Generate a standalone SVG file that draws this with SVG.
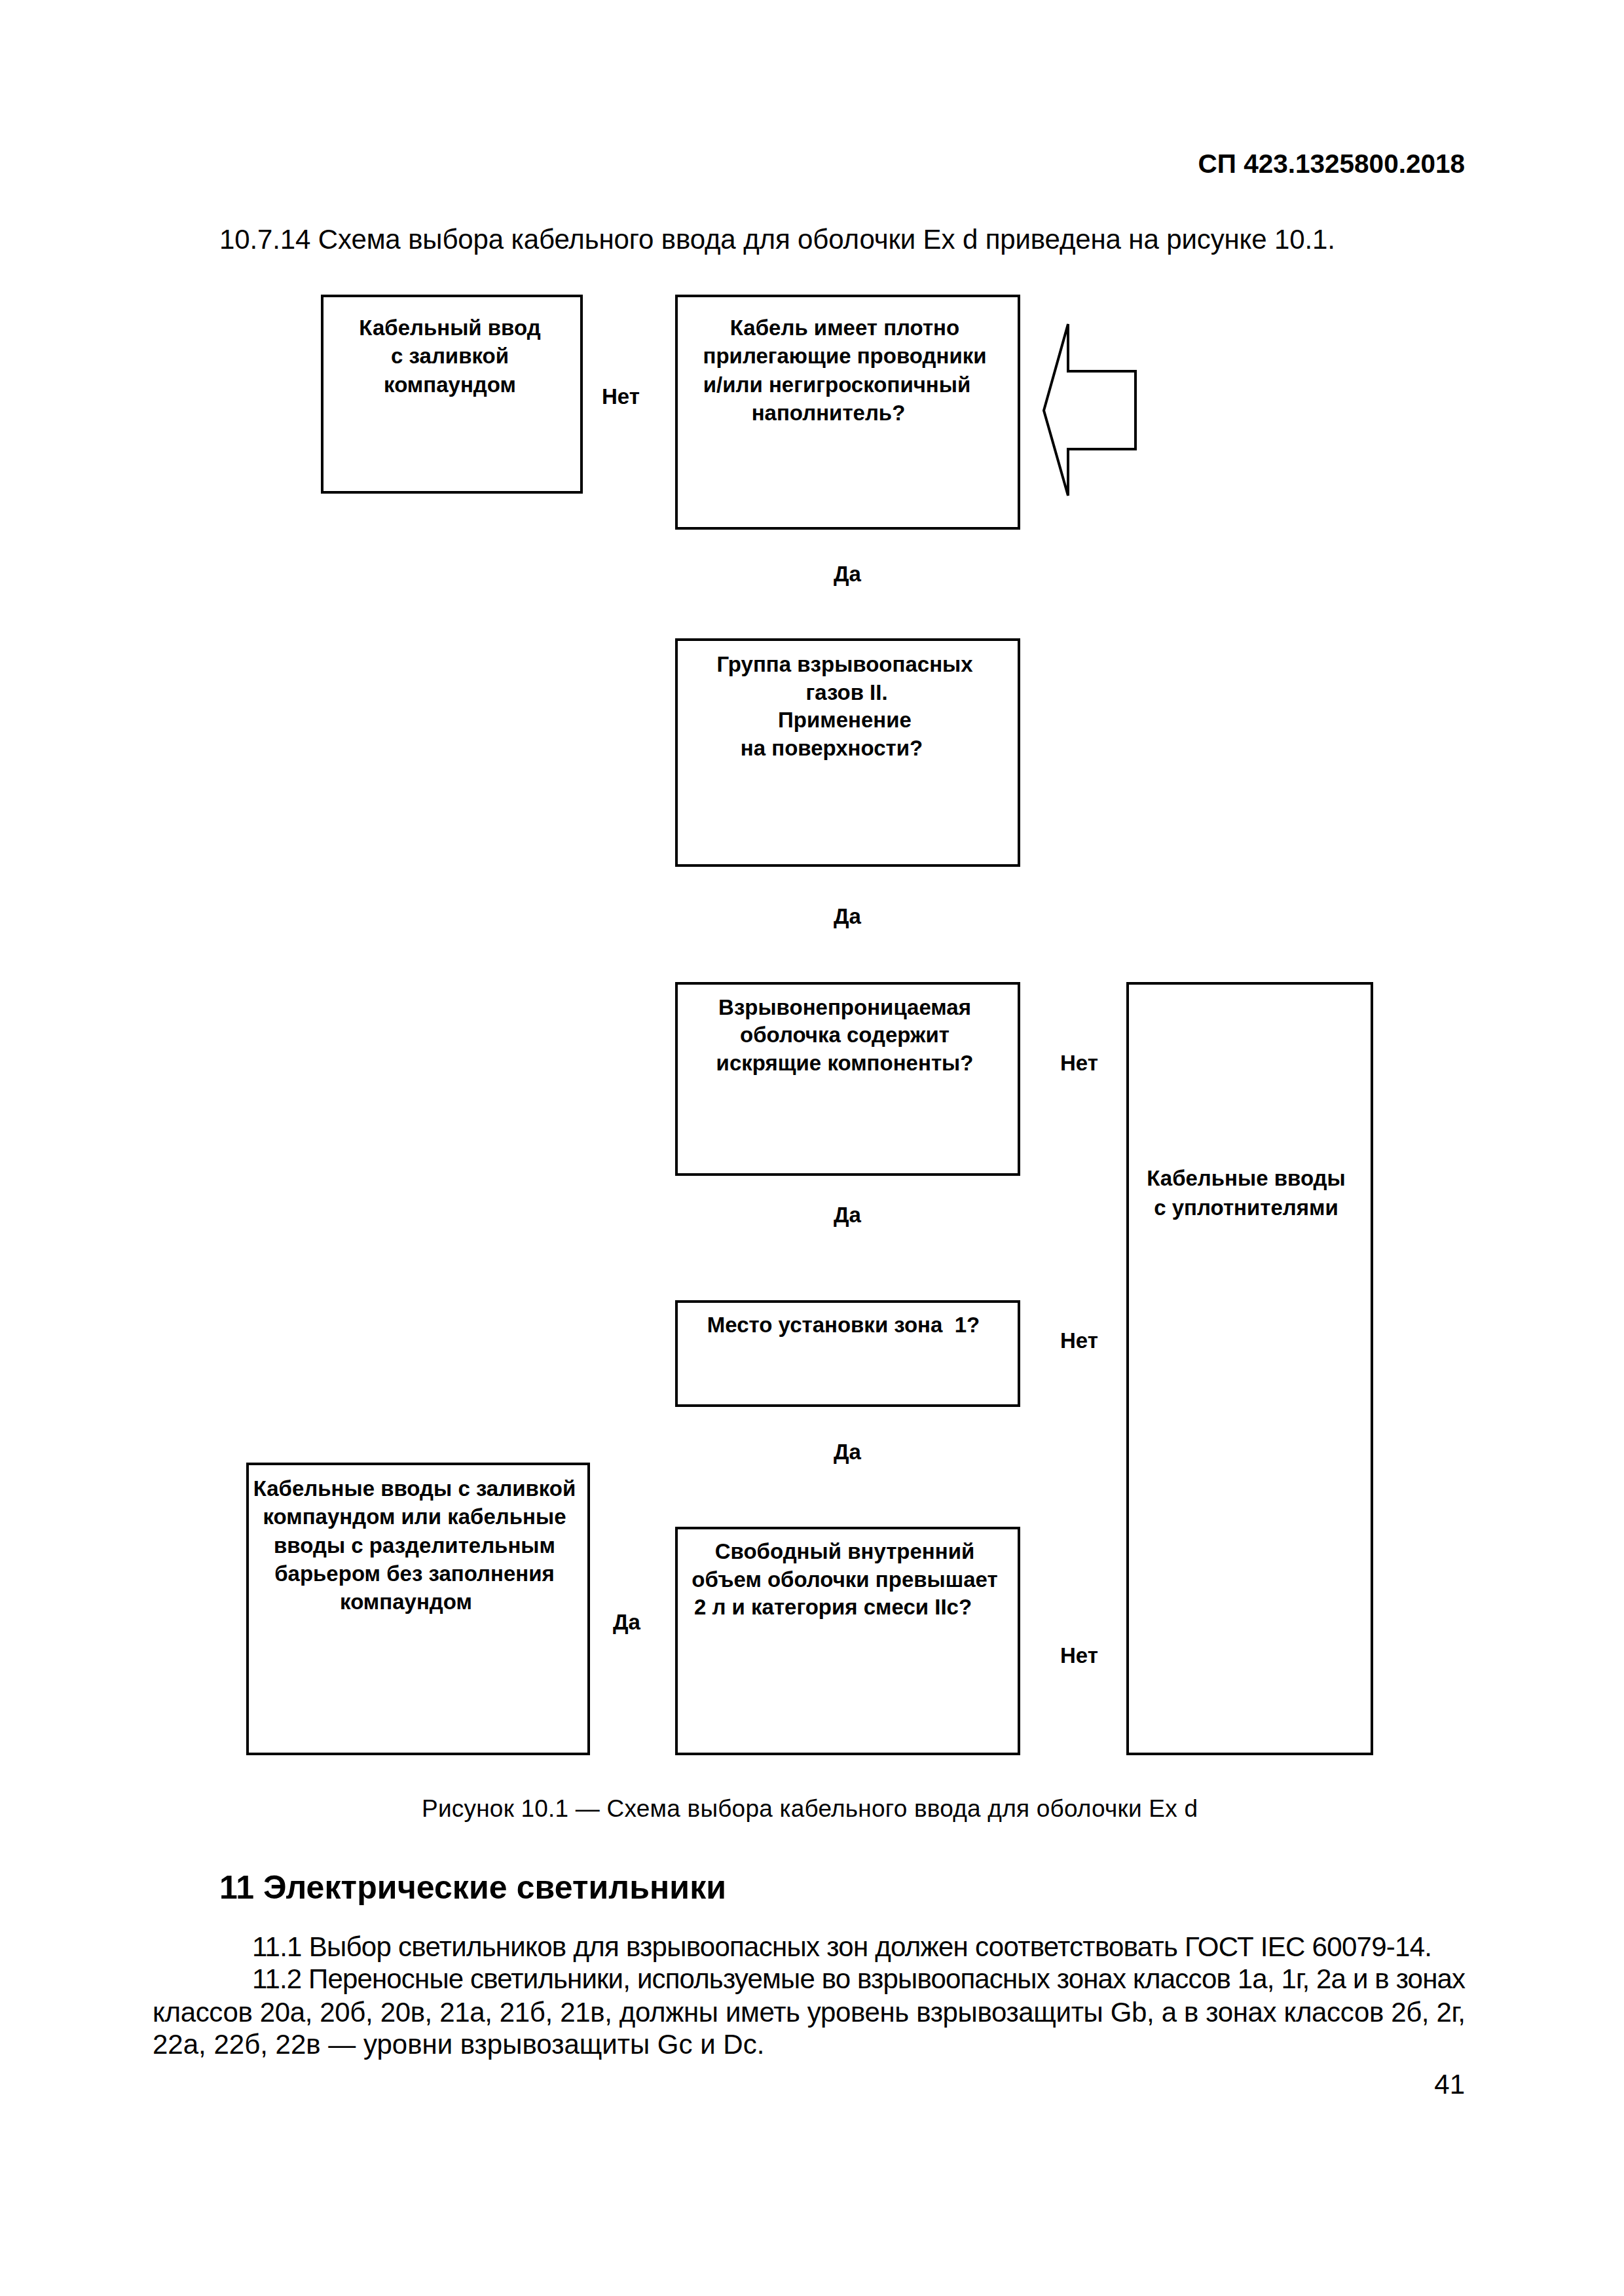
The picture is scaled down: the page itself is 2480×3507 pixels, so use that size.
<svg xmlns="http://www.w3.org/2000/svg" width="2480" height="3507" viewBox="0 0 2480 3507">
<style>
text{font-family:"Liberation Sans",Arial,sans-serif;fill:#000}
.b{font-weight:bold}
.box{fill:none;stroke:#000;stroke-width:4}
.bt{font-size:33px;font-weight:bold;text-anchor:middle}
.lbl{font-size:33px;font-weight:bold;text-anchor:middle}
.body{font-size:42px}
</style>
<rect width="2480" height="3507" fill="#fff"/>
<text class="b" x="2237" y="264" font-size="40.5" text-anchor="end">СП 423.1325800.2018</text>
<text class="body" x="335" y="380" textLength="1704">10.7.14 Схема выбора кабельного ввода для оболочки Ex d приведена на рисунке 10.1.</text>

<g id="node-kabelnyi-vvod">
<rect class="box" x="492" y="452" width="396" height="300"/>
<text class="bt" x="687" y="512">Кабельный ввод</text>
<text class="bt" x="687" y="555">с заливкой</text>
<text class="bt" x="687" y="599">компаундом</text>
</g>
<g id="node-kabel-imeet">
<rect class="box" x="1033" y="452" width="523" height="355"/>
<text class="bt" x="1290" y="512">Кабель имеет плотно</text>
<text class="bt" x="1290" y="555">прилегающие проводники</text>
<text class="bt" x="1278" y="599">и/или негигроскопичный</text>
<text class="bt" x="1265" y="642">наполнитель?</text>
</g>
<g id="node-input-arrow">
<polygon class="box" points="1594,627 1631,495 1631,567 1734,567 1734,686 1631,686 1631,757"/>
</g>
<g id="node-gruppa">
<rect class="box" x="1033" y="977" width="523" height="345"/>
<text class="bt" x="1290" y="1026">Группа взрывоопасных</text>
<text class="bt" x="1293" y="1069">газов II.</text>
<text class="bt" x="1290" y="1111">Применение</text>
<text class="bt" x="1270" y="1154">на поверхности?</text>
</g>
<g id="node-vzryvonepronitsaemaya">
<rect class="box" x="1033" y="1502" width="523" height="292"/>
<text class="bt" x="1290" y="1550">Взрывонепроницаемая</text>
<text class="bt" x="1290" y="1592">оболочка содержит</text>
<text class="bt" x="1290" y="1635">искрящие компоненты?</text>
</g>
<g id="node-uplotniteli">
<rect class="box" x="1722" y="1502" width="373" height="1177"/>
<text class="bt" x="1903" y="1811">Кабельные вводы</text>
<text class="bt" x="1903" y="1856">с уплотнителями</text>
</g>
<g id="node-mesto">
<rect class="box" x="1033" y="1988" width="523" height="159"/>
<text class="bt" x="1288" y="2035" xml:space="preserve">Место установки зона  1?</text>
</g>
<g id="node-kabelnye-vvody-zalivka">
<rect class="box" x="378" y="2236" width="521" height="443"/>
<text class="bt" x="633" y="2285">Кабельные вводы с заливкой</text>
<text class="bt" x="633" y="2328">компаундом или кабельные</text>
<text class="bt" x="633" y="2372">вводы с разделительным</text>
<text class="bt" x="633" y="2415">барьером без заполнения</text>
<text class="bt" x="620" y="2458">компаундом</text>
</g>
<g id="node-svobodnyi">
<rect class="box" x="1033" y="2334" width="523" height="345"/>
<text class="bt" x="1290" y="2381">Свободный внутренний</text>
<text class="bt" x="1290" y="2424">объем оболочки превышает</text>
<text class="bt" x="1272" y="2466">2 л и категория смеси IIc?</text>
</g>

<g id="connectors">
<text class="lbl" x="948" y="617">Нет</text>
<text class="lbl" x="1294" y="888">Да</text>
<text class="lbl" x="1294" y="1411">Да</text>
<text class="lbl" x="1648" y="1635">Нет</text>
<text class="lbl" x="1294" y="1867">Да</text>
<text class="lbl" x="1648" y="2059">Нет</text>
<text class="lbl" x="1294" y="2229">Да</text>
<text class="lbl" x="957" y="2489">Да</text>
<text class="lbl" x="1648" y="2540">Нет</text>
</g>

<text x="644" y="2775" font-size="37" textLength="1185">Рисунок 10.1 — Схема выбора кабельного ввода для оболочки Ex d</text>
<text class="b" x="335" y="2900" font-size="50" textLength="774">11 Электрические светильники</text>
<text class="body" x="385" y="2988" textLength="1802">11.1 Выбор светильников для взрывоопасных зон должен соответствовать ГОСТ IEC 60079-14.</text>
<text class="body" x="385" y="3037" textLength="1853">11.2 Переносные светильники, используемые во взрывоопасных зонах классов 1а, 1г, 2а и в зонах</text>
<text class="body" x="233" y="3088" textLength="2005">классов 20а, 20б, 20в, 21а, 21б, 21в, должны иметь уровень взрывозащиты Gb, а в зонах классов 2б, 2г,</text>
<text class="body" x="233" y="3137">22а, 22б, 22в — уровни взрывозащиты Gc и Dc.</text>
<text class="body" x="2237" y="3198" text-anchor="end">41</text>
</svg>
